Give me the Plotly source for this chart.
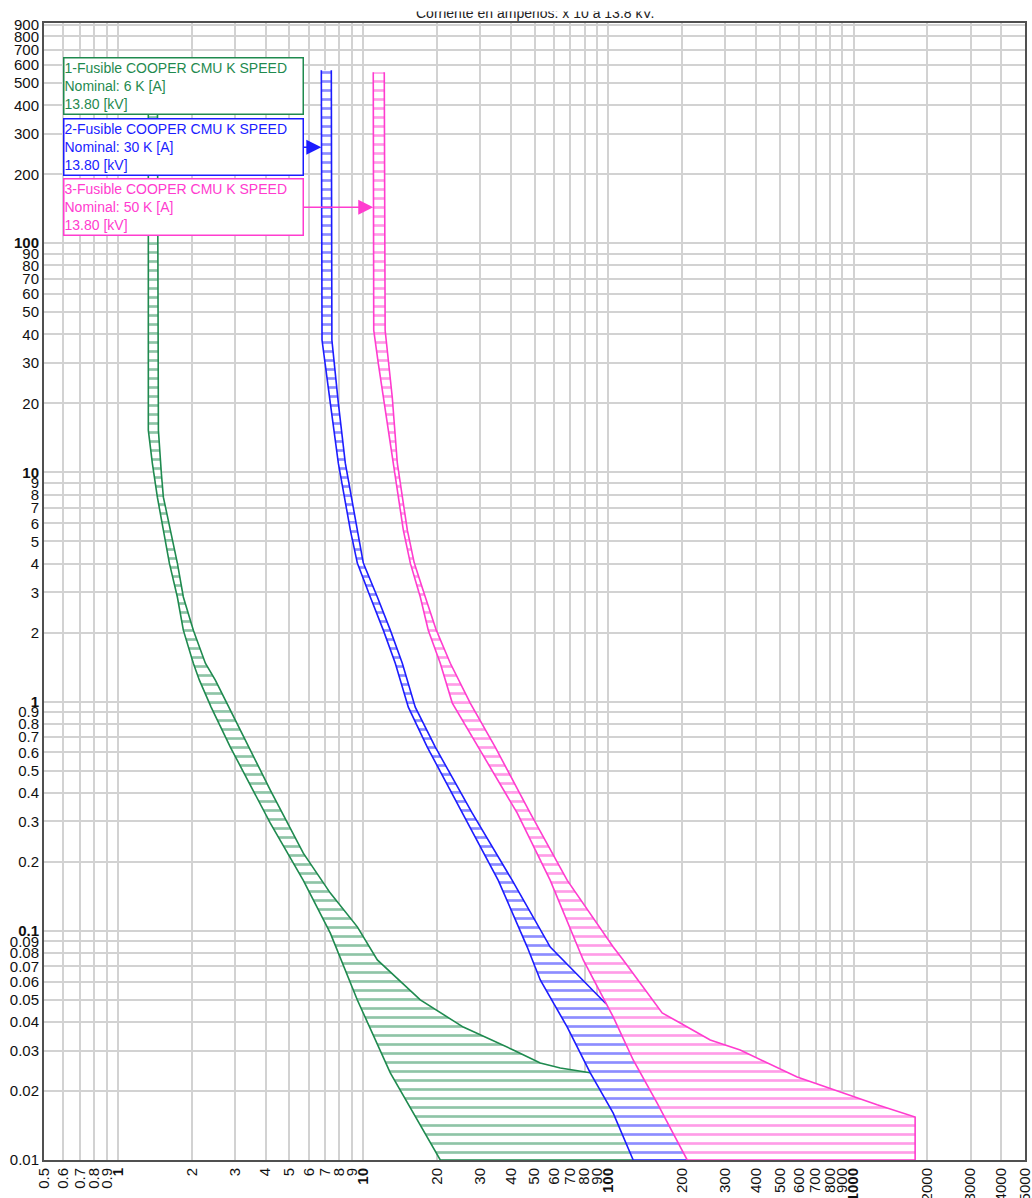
import math
import plotly.graph_objects as go

# ---------------- data (amperes x10 @ 13.8 kV, seconds) ----------------
# 1 - Fusible COOPER CMU K SPEED 6K
g_mm_t = [560, 15.3, 10.97, 7.80, 5.60, 4.02, 2.86, 2.05, 1.47, 1.24, 0.946, 0.633, 0.295, 0.166, 0.0977, 0.0499, 0.0240, 0.0160, 0.01]
g_mm_x = [1.331, 1.331, 1.382, 1.449, 1.533, 1.622, 1.748, 1.849, 2.031, 2.15, 2.40, 2.875, 4.184, 5.704, 7.351, 9.474, 12.91, 16.02, 20.64]
g_tc_t = [560, 15.3, 9.93, 7.80, 5.60, 4.02, 2.86, 2.05, 1.47, 1.24, 0.751, 0.411, 0.218, 0.146, 0.104, 0.0746, 0.0499, 0.0380, 0.0302, 0.0265, 0.0252, 0.0240, 0.0212, 0.0192, 0.01]
g_tc_x = [1.449, 1.463, 1.504, 1.533, 1.637, 1.748, 1.849, 2.031, 2.274, 2.497, 3.158, 4.184, 5.704, 7.351, 9.474, 11.43, 17.11, 25.62, 40.96, 52.78, 63.68, 84.40, 111.8, 148.2, 148.2]

# 2 - Fusible COOPER CMU K SPEED 30K
b_mm_t = [568, 37.8, 20.05, 10.97, 5.60, 4.02, 2.86, 2.05, 1.47, 0.946, 0.633, 0.326, 0.166, 0.0849, 0.0610, 0.0380, 0.0240, 0.0160, 0.01]
b_mm_x = [6.756, 6.80, 7.351, 7.925, 8.872, 9.474, 10.70, 12.09, 13.53, 15.29, 18.27, 25.38, 35.58, 46.71, 52.78, 68.01, 84.40, 104.7, 126.3]
b_tc_t = [568, 37.8, 20.05, 10.97, 5.60, 4.02, 2.86, 2.05, 1.47, 0.946, 0.633, 0.326, 0.166, 0.0849, 0.0746, 0.0484, 0.0369, 0.0273, 0.0202, 0.0183, 0.01]
b_tc_x = [7.420, 7.46, 7.925, 8.462, 9.474, 10.02, 11.43, 12.91, 14.45, 16.32, 19.70, 27.87, 40.57, 57.97, 65.50, 97.14, 134.9, 236.9, 416.1, 502.2, 502.2]

# 3 - Fusible COOPER CMU K SPEED 50K
m_mm_t = [557, 41.7, 29.97, 21.29, 15.29, 10.97, 7.80, 5.60, 4.02, 2.86, 2.05, 1.47, 0.985, 0.633, 0.326, 0.166, 0.0849, 0.0746, 0.0421, 0.0273, 0.0177, 0.01]
m_mm_x = [11.00, 11.05, 11.53, 12.09, 12.67, 13.28, 13.92, 14.59, 15.58, 17.11, 18.44, 20.64, 23.11, 29.49, 42.53, 57.97, 74.69, 79.02, 104.7, 126.3, 158.2, 209.7]
m_tc_t = [557, 41.7, 21.29, 10.97, 7.80, 5.60, 4.02, 2.86, 2.05, 1.47, 0.985, 0.633, 0.326, 0.166, 0.0849, 0.0746, 0.0438, 0.0396, 0.0334, 0.0302, 0.0230, 0.0174, 0.0154, 0.01]
m_tc_x = [12.20, 12.30, 13.15, 13.79, 14.45, 15.15, 16.17, 17.93, 19.88, 22.68, 27.35, 34.58, 48.04, 68.01, 104.7, 115.0, 165.8, 196.4, 260.3, 344.9, 589.0, 1248, 1783, 1783]

fuse_names = ["1-Fusible COOPER CMU K SPEED", "2-Fusible COOPER CMU K SPEED", "3-Fusible COOPER CMU K SPEED"]
fuse_nominal = ["Nominal: 6 K [A]", "Nominal: 30 K [A]", "Nominal: 50 K [A]"]
fuse_kv = ["13.80 [kV]", "13.80 [kV]", "13.80 [kV]"]
fuse_colors = ["#1f8a4f", "#1c1cff", "#ff3ccf"]

# arrow targets (current, time) for labels 2 and 3
arrow_x = [None, 6.756, 11.00]
arrow_t = [None, 262.3, 143.6]

x_ticks = [0.5, 0.6, 0.7, 0.8, 0.9, 1, 2, 3, 4, 5, 6, 7, 8, 9, 10, 20, 30, 40, 50, 60, 70, 80, 90,
           100, 200, 300, 400, 500, 600, 700, 800, 900, 1000, 2000, 3000, 4000, 5000]
y_ticks = [0.01, 0.02, 0.03, 0.04, 0.05, 0.06, 0.07, 0.08, 0.09, 0.1, 0.2, 0.3, 0.4, 0.5, 0.6, 0.7, 0.8, 0.9,
           1, 2, 3, 4, 5, 6, 7, 8, 9, 10, 20, 30, 40, 50, 60, 70, 80, 90, 100, 200, 300, 400, 500, 600, 700, 800, 900]
x_bold = [1, 10, 100, 1000]
y_bold = [0.1, 1, 10, 100]

title_text = "Corriente en amperios: x 10 a 13.8 kV."

# ---------------- layout geometry (page body margin removed) ----------------
W, H = 1032, 1198
ML, MR, MT, MB = 44, 7, 23, 38
PW, PH = W - ML - MR, H - MT - MB
X_RANGE = [math.log10(0.5) - 0.0002, math.log10(5000) + 0.0002]
Y_RANGE = [-2.0002, 2.961]


def fmt(v, bold):
    s = f"{v:g}"
    return f"<b>{s}</b>" if v in bold else s


fig = go.Figure()
curves = [(g_mm_x, g_mm_t, g_tc_x, g_tc_t), (b_mm_x, b_mm_t, b_tc_x, b_tc_t), (m_mm_x, m_mm_t, m_tc_x, m_tc_t)]
for (mx, mt, tx, tt), col in zip(curves, fuse_colors):
    fig.add_trace(go.Scatter(
        x=list(mx) + list(tx)[::-1],
        y=list(mt) + list(tt)[::-1],
        mode="lines",
        fill="toself",
        fillcolor="white",
        fillpattern=dict(shape="-", size=9, solidity=0.3, fgcolor=col, bgcolor="white"),
        line=dict(color=col, width=1.6),
        hoverinfo="skip",
        showlegend=False,
    ))

FONT = "Liberation Sans, Arial, sans-serif"
annotations = []
box_cy = [86, 147.5, 208]   # figure pixels from top
box_cx = 183.5
for i in range(3):
    txt = f"{fuse_names[i]}<br>{fuse_nominal[i]}<br>{fuse_kv[i]}"
    common = dict(text=txt, align="left", font=dict(family=FONT, size=14, color=fuse_colors[i]),
                  bgcolor="white", bordercolor=fuse_colors[i], borderwidth=1.5, borderpad=0,
                  width=238, height=55)
    if arrow_x[i] is None:
        annotations.append(dict(xref="paper", yref="paper",
                                x=(box_cx - ML) / PW, y=(H - MB - box_cy[i]) / PH,
                                xanchor="center", yanchor="middle", showarrow=False, **common))
    else:
        tip_px = ML + (math.log10(arrow_x[i]) - X_RANGE[0]) / (X_RANGE[1] - X_RANGE[0]) * PW
        annotations.append(dict(xref="x", yref="y", x=math.log10(arrow_x[i]), y=math.log10(arrow_t[i]),
                                ax=box_cx - tip_px, ay=0, showarrow=True, arrowhead=2, arrowsize=2,
                                arrowwidth=1.5, arrowcolor=fuse_colors[i], standoff=0, **common))

# title (its top is trimmed by a white strip at the very top, as in the original)
annotations.append(dict(xref="paper", yref="paper", x=0.5, y=1, yanchor="bottom", yshift=0,
                        text=title_text, showarrow=False, font=dict(family=FONT, size=14, color="#222")))
annotations.append(dict(xref="paper", yref="paper", x=0.5, y=1 + MT / PH, yanchor="top",
                        text=" ", showarrow=False, bgcolor="white", width=420, height=10, borderpad=0))

grid = "#d2d2d2"
axis_common = dict(type="log", showgrid=True, gridcolor=grid, gridwidth=1.5,
                   showline=True, linecolor="#505050", linewidth=2, mirror=True, ticks="",
                   automargin=False, ticklabeloverflow="allow",
                   tickfont=dict(size=15, color="#111", family=FONT))
fig.update_layout(
    width=W, height=H,
    margin=dict(l=ML, r=MR, t=MT, b=MB, autoexpand=False),
    paper_bgcolor="white", plot_bgcolor="white",
    showlegend=False,
    annotations=annotations,
    font=dict(family=FONT, size=15, color="#111"),
    xaxis=dict(range=X_RANGE, tickvals=x_ticks, ticktext=[fmt(v, x_bold) for v in x_ticks],
               tickangle=-90, **axis_common),
    yaxis=dict(range=Y_RANGE, tickvals=y_ticks, ticktext=[fmt(v, y_bold) for v in y_ticks], **axis_common),
)

fig.write_html(
    "out.html",
    config={"displayModeBar": False},
    post_script="document.body.style.margin='0';document.documentElement.style.overflow='hidden';",
)
